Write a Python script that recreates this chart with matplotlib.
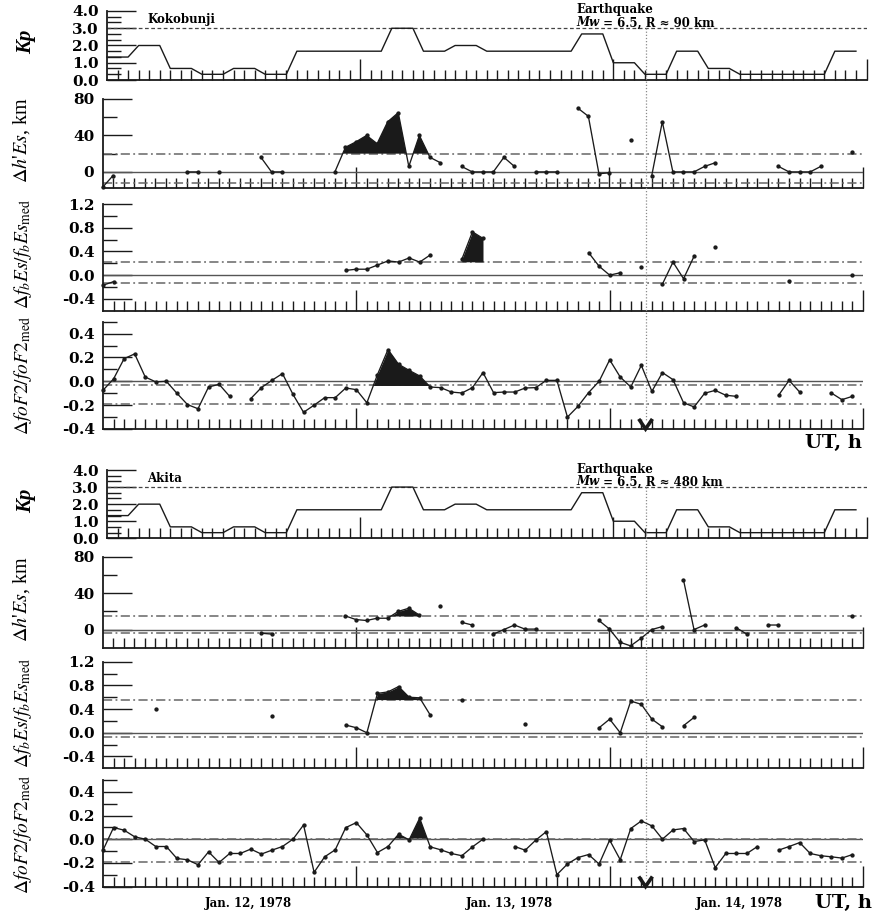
import numpy as np
import matplotlib
matplotlib.use('Agg')
import matplotlib.pyplot as plt
from matplotlib.ticker import FixedLocator, NullFormatter
import matplotlib.transforms as mtransforms
from matplotlib.lines import Line2D

plt.rcParams['font.family'] = ['DejaVu Serif']
plt.rcParams['mathtext.fontset'] = 'stix'

W, H = 875, 915
nan = np.nan

hours = np.arange(72)
day_ticks = [24, 48, 72]
hour_ticks = [h for h in range(1, 72) if h % 24 != 0]
quake_hour = 51.4

# Kp, 3-hour values (same for both stations)
kp_start = np.arange(0, 72, 3)
kp_values = [1.33, 2.0, 0.67, 0.33, 0.67, 0.33, 1.67, 1.67, 1.67, 3.0, 1.67, 2.0,
             1.67, 1.67, 1.67, 2.67, 1.0, 0.33, 1.67, 0.67, 0.33, 0.33, 0.33, 1.67]

# Kokobunji
dh_kok = [-17, -4, nan, nan, nan, nan, nan, nan, 0, 0,
          nan, 0, nan, nan, nan, 16, 0, 0, nan, nan,
          nan, nan, 0, 27, 33, 40, 31, 55, 65, 6,
          40, 16, 10, nan, 6, 0, 0, 0, 16, 6,
          nan, 0, 0, 0, nan, 70, 61, -2, -1, nan,
          35, nan, -4, 55, 0, 0, 0, 6, 10, nan,
          nan, nan, nan, nan, 6, 0, 0, 0, 6, nan,
          nan, 22]
fb_kok = [-0.17, -0.11, nan, nan, nan, nan, nan, nan, nan, nan,
          nan, nan, nan, nan, nan, nan, nan, nan, nan, nan,
          nan, nan, nan, 0.08, 0.10, 0.10, 0.17, 0.24, 0.22, 0.29,
          0.22, 0.34, nan, nan, 0.27, 0.73, 0.62, nan, nan, nan,
          nan, nan, nan, nan, nan, nan, 0.38, 0.15, 0.0, 0.04,
          nan, 0.13, nan, -0.15, 0.22, -0.06, 0.32, nan, 0.48, nan,
          nan, nan, nan, nan, nan, -0.10, nan, nan, nan, nan,
          nan, 0.0]
fo_kok = [-0.075, 0.02, 0.19, 0.23, 0.036, -0.005, 0.0, -0.10, -0.195, -0.23,
          -0.048, -0.025, -0.126, nan, -0.145, -0.053, 0.008, 0.065, -0.11, -0.26,
          -0.20, -0.137, -0.137, -0.056, -0.07, -0.18, 0.056, 0.266, 0.143, 0.092,
          0.045, -0.048, -0.053, -0.09, -0.098, -0.053, 0.073, -0.095, -0.09, -0.09,
          -0.056, -0.053, 0.008, 0.008, -0.30, -0.21, -0.095, 0.0, 0.18, 0.036,
          -0.048, 0.134, -0.084, 0.073, 0.014, -0.18, -0.215, -0.10, -0.076, -0.117,
          -0.126, nan, nan, nan, -0.117, 0.008, -0.09, nan, nan, -0.098,
          -0.154, -0.126]

# Akita
dh_aki = [nan, nan, nan, nan, nan, nan, nan, nan, nan, nan,
          nan, nan, nan, nan, nan, -4, -5, nan, nan, nan,
          nan, nan, nan, 15, 11, 10, 12.5, 12.5, 20, 23.5,
          16, nan, 26, nan, 8, 5, nan, -5, 0, 5,
          0.5, 0.5, nan, nan, nan, nan, nan, 10, 0.5, -14,
          -18, -9.5, 0, 3.3, nan, 55, 0, 5, nan, nan,
          2, -5, nan, 5, 5, nan, nan, nan, nan, nan,
          nan, 15]
fb_aki = [nan, nan, nan, nan, nan, 0.40, nan, nan, nan, nan,
          nan, nan, nan, nan, nan, nan, 0.28, nan, nan, nan,
          nan, nan, nan, 0.13, 0.085, 0.0, 0.665, 0.69, 0.78, 0.60,
          0.59, 0.30, nan, nan, 0.56, nan, nan, nan, nan, nan,
          0.14, nan, nan, nan, nan, nan, nan, 0.085, 0.23, 0.0,
          0.535, 0.48, 0.23, 0.10, nan, 0.12, 0.26, nan, nan, nan,
          nan, nan, nan, nan, nan, nan, nan, nan, nan, nan,
          nan, nan]
fo_aki = [-0.093, 0.098, 0.076, 0.02, 0.0, -0.062, -0.062, -0.163, -0.174, -0.216,
          -0.107, -0.197, -0.121, -0.121, -0.084, -0.126, -0.093, -0.062, 0.0, 0.12,
          -0.28, -0.149, -0.09, 0.098, 0.14, 0.036, -0.113, -0.062, 0.042, -0.006,
          0.177, -0.065, -0.09, -0.121, -0.14, -0.065, 0.0, nan, nan, -0.062,
          -0.093, -0.008, 0.064, -0.30, -0.21, -0.155, -0.13, -0.21, -0.008, -0.174,
          0.09, 0.154, 0.112, 0.0, 0.078, 0.09, -0.02, -0.006, -0.24, -0.121,
          -0.121, -0.121, -0.062, nan, -0.093, -0.062, -0.029, -0.121, -0.14, -0.149,
          -0.16, -0.13]

# thresholds (upper, lower) and windows of filled excess
thr_dh_kok, thr_fb_kok, thr_fo_kok = (20, -11.7), (0.225, -0.13), (-0.035, -0.19)
thr_dh_aki, thr_fb_aki, thr_fo_aki = (15, -4), (0.56, -0.07), (0.005, -0.19)
win_dh_kok, win_fb_kok, win_fo_kok = (22, 31), (34, 36), (25, 31)
win_dh_aki, win_fb_aki, win_fo_aki = (27, 30), (25, 31), (27, 31)

kp_ticks = [0, 1, 2, 3, 4]
kp_minor = [i / 3 for i in range(13) if i % 3 != 0]
kp_labels = ['0.0', '1.0', '2.0', '3.0', '4.0']
dh_ticks, dh_minor, dh_labels = [0, 40, 80], [20, 60], ['0', '40', '80']
fb_ticks = [-0.4, 0.0, 0.4, 0.8, 1.2]
fb_minor = [-0.2, 0.2, 0.6, 1.0]
fb_labels = ['-0.4', '0.0', '0.4', '0.8', '1.2']
fo_ticks = [-0.4, -0.2, 0.0, 0.2, 0.4]
fo_minor = [-0.3, -0.1, 0.1, 0.3, 0.5]
fo_labels = ['-0.4', '-0.2', '0.0', '0.2', '0.4']

fig = plt.figure(figsize=(W / 100, H / 100), dpi=100)
INK = '#1a1a1a'
DASHDOT = (0, (6, 2.2, 1.2, 2.2))


def add_panel(left, top, bottom, right=863):
    return fig.add_axes([left / W, 1 - bottom / H, (right - left) / W, (bottom - top) / H])


def style(ax, ylim, major, minor, labels):
    ax.set_xlim(0, 72)
    ax.set_ylim(*ylim)
    for s in ['top', 'right']:
        ax.spines[s].set_visible(False)
    for s in ['left', 'bottom']:
        ax.spines[s].set_linewidth(1.3)
        ax.spines[s].set_color(INK)
    ax.xaxis.set_major_locator(FixedLocator(day_ticks))
    ax.xaxis.set_minor_locator(FixedLocator(hour_ticks))
    ax.xaxis.set_major_formatter(NullFormatter())
    ax.tick_params(axis='x', which='major', direction='in', length=15, width=1.0, color=INK)
    ax.tick_params(axis='x', which='minor', direction='in', length=7, width=1.0, color=INK)
    ax.yaxis.set_major_locator(FixedLocator(major))
    ax.yaxis.set_minor_locator(FixedLocator(minor))
    ax.set_yticklabels(labels, fontweight='bold', fontsize=11)
    ax.tick_params(axis='y', which='major', direction='in', length=21, width=1.0, pad=6, color=INK)
    ax.tick_params(axis='y', which='minor', direction='in', length=10, width=1.0, color=INK)
    ax.patch.set_alpha(0)


def kp_panel(top, bottom):
    ax = add_panel(107, top, bottom, right=866.5)
    style(ax, (0, 4), kp_ticks, kp_minor, kp_labels)
    x = np.ravel([[s, s + 2] for s in kp_start])
    y = np.repeat(kp_values, 2)
    ax.axhline(3.0, ls=(0, (3, 2)), color='#444444', lw=0.9)
    ax.plot(x, y, color=INK, lw=1.0, clip_on=False)
    return ax


def data_panel(left, top, bottom, ylim, ticks, vals, thr, win):
    ax = add_panel(left, top, bottom)
    style(ax, ylim, *ticks)
    y = np.array(vals, float)
    ax.axhline(0, color='#555555', lw=1.0)
    ax.axhline(thr[0], color='#666666', lw=1.1, ls=DASHDOT)
    ax.axhline(thr[1], color='#666666', lw=1.1, ls=DASHDOT)
    m = (hours >= win[0]) & (hours <= win[1])
    ax.fill_between(hours[m], y[m], thr[0], where=y[m] > thr[0], interpolate=True,
                    color=INK, lw=0, zorder=3)
    ax.plot(hours, y, '-', color=INK, lw=0.95, marker='o', ms=2.1, clip_on=False, zorder=4)
    return ax


def quake_marker(ax):
    tr = mtransforms.blended_transform_factory(ax.transData, ax.transAxes)
    ax.plot([quake_hour - 0.55, quake_hour, quake_hour + 0.55], [0.08, 0.0, 0.08],
            transform=tr, color=INK, lw=2.6, solid_joinstyle='miter', clip_on=False, zorder=6)


def quake_line(ax, y_top_px, y_bot_px):
    tr = mtransforms.blended_transform_factory(ax.transData, fig.transFigure)
    fig.add_artist(Line2D([quake_hour, quake_hour], [1 - y_top_px / H, 1 - y_bot_px / H],
                          transform=tr, color='#8a8a8a', lw=0.9, ls=(0, (1, 1.5))))


def label(xpx, ypx, s, **kw):
    fig.text(xpx / W, 1 - ypx / H, s, rotation=90, ha='center', va='center', **kw)


dh_tk = (dh_ticks, dh_minor, dh_labels)
fb_tk = (fb_ticks, fb_minor, fb_labels)
fo_tk = (fo_ticks, fo_minor, fo_labels)

sets = [
    dict(kp=(11, 80), dh=(99, 188.3, (-18, 80)), fb=(204, 310.7), fo=(321.7, 429),
         data=(dh_kok, fb_kok, fo_kok), thr=(thr_dh_kok, thr_fb_kok, thr_fo_kok),
         win=(win_dh_kok, win_fb_kok, win_fo_kok), name='Kokobunji', R='90',
         off=0, ut=(862, 443)),
    dict(kp=(470, 538.3), dh=(557, 647.7, (-20, 80)), fb=(661.7, 768.3), fo=(780, 886.5),
         data=(dh_aki, fb_aki, fo_aki), thr=(thr_dh_aki, thr_fb_aki, thr_fo_aki),
         win=(win_dh_aki, win_fb_aki, win_fo_aki), name='Akita', R='480',
         off=459, ut=(872, 903)),
]

for S in sets:
    o = S['off']
    axk = kp_panel(*S['kp'])
    ax2 = data_panel(102.5, S['dh'][0], S['dh'][1], S['dh'][2], dh_tk, S['data'][0], S['thr'][0], S['win'][0])
    ax3 = data_panel(103, S['fb'][0], S['fb'][1], (-0.6, 1.2), fb_tk, S['data'][1], S['thr'][1], S['win'][1])
    ax4 = data_panel(103, S['fo'][0], S['fo'][1], (-0.4, 0.5), fo_tk, S['data'][2], S['thr'][2], S['win'][2])
    quake_marker(ax4)
    quake_line(ax4, 28 + o, S['fo'][1] - 9)

    fig.text(147 / W, 1 - (19 + o) / H, S['name'], fontsize=8.5, fontweight='bold', va='center')
    fig.text(576 / W, 1 - (10 + o) / H, 'Earthquake', fontsize=8.5, fontweight='bold', va='center')
    t1 = fig.text(576 / W, 1 - (23 + o) / H, 'Mw', fontsize=8.5, fontweight='bold',
                  fontstyle='italic', va='center')
    axk.annotate(' = 6.5, R \u2248 ' + S['R'] + ' km', xy=(1, 0), xycoords=t1,
                 va='bottom', ha='left', fontsize=8.5, fontweight='bold',
                 annotation_clip=False)

    label(26, 42 + o, 'Kp', fontsize=15, fontweight='bold', fontstyle='italic',
          family='Liberation Serif')
    label(21, 140 + o, r"$\Delta h$'$Es$, km", fontsize=14.5, family='Liberation Serif')
    label(23, 254 + o, r"$\Delta f_b Es/f_b Es_{\rm med}$", fontsize=14)
    label(23, 376 + o, r"$\Delta foF2/foF2_{\rm med}$", fontsize=14)

    fig.text(S['ut'][0] / W, 1 - S['ut'][1] / H, 'UT, h', fontsize=14, fontweight='bold',
             ha='right', va='center')

# date labels under the bottom panel
ax_bottom = fig.axes[-1]
trd = mtransforms.blended_transform_factory(ax_bottom.transData, fig.transFigure)
for hx, txt in [(13.8, 'Jan. 12, 1978'), (38.5, 'Jan. 13, 1978'), (60.3, 'Jan. 14, 1978')]:
    fig.text(hx, 1 - 903 / H, txt, transform=trd, fontsize=8.5, fontweight='bold',
             ha='center', va='center')

fig.savefig('out.png', dpi=100)
